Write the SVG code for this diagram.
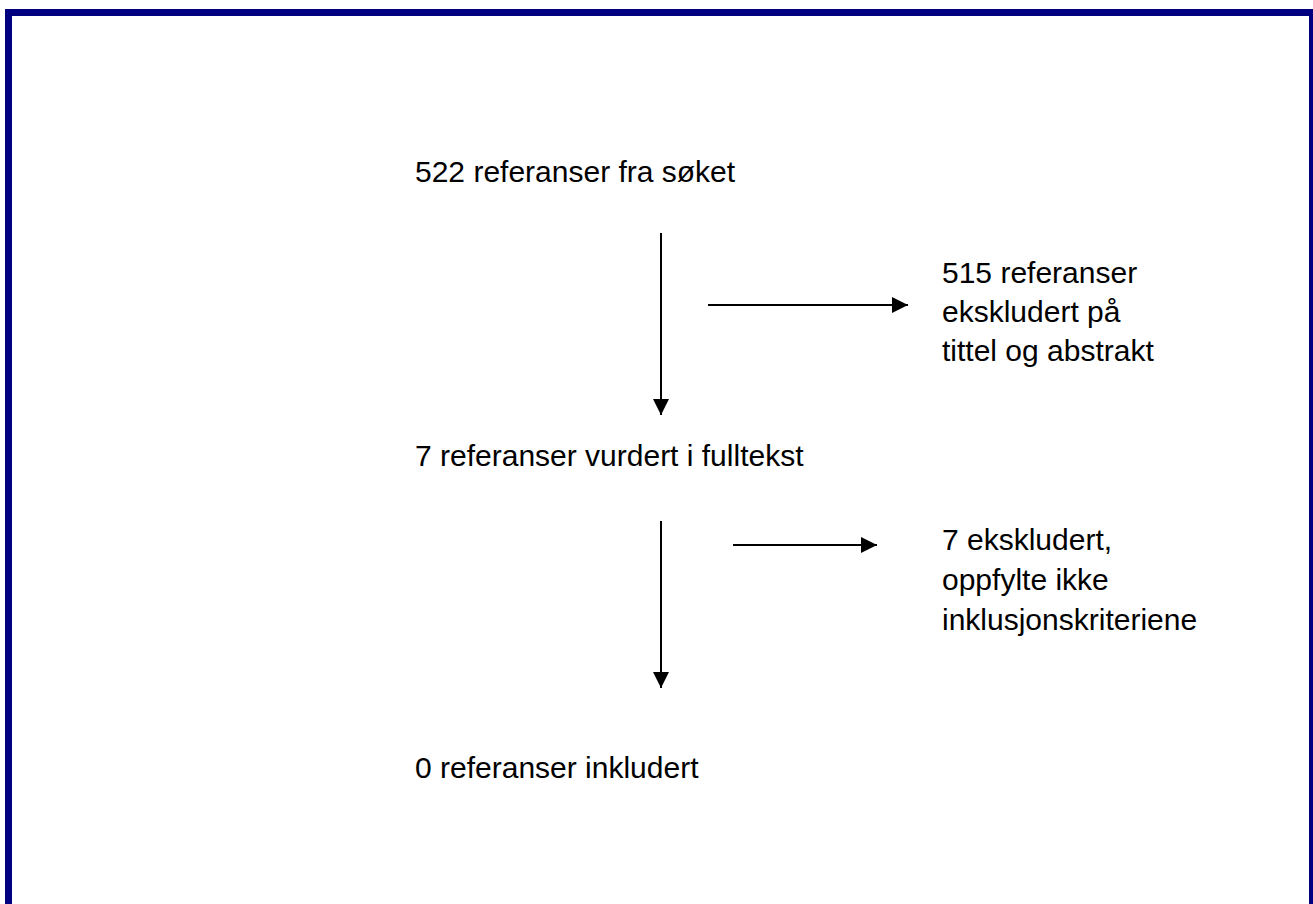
<svg xmlns="http://www.w3.org/2000/svg" width="1313" height="904" viewBox="0 0 1313 904">
<style>
.t{font-family:"Liberation Sans",Arial,sans-serif;font-size:30px;fill:#000}
.c{stroke:#000;stroke-width:2;fill:none}
</style>
<defs>
<marker id="ah" viewBox="0 0 16 16" refX="16" refY="8" markerWidth="16" markerHeight="16" markerUnits="userSpaceOnUse" orient="auto">
<path d="M0,0 L16,8 L0,16 Z" fill="#000"/>
</marker>
</defs>
<rect x="0" y="0" width="1313" height="904" fill="#fff"/>
<rect x="8.5" y="12.5" width="1304" height="900" fill="none" stroke="#000080" stroke-width="7"/>
<g id="connectors">
<line class="c" x1="661" y1="233" x2="661" y2="415" marker-end="url(#ah)"/>
<line class="c" x1="708" y1="305" x2="908" y2="305" marker-end="url(#ah)"/>
<line class="c" x1="661" y1="521" x2="661" y2="688" marker-end="url(#ah)"/>
<line class="c" x1="733" y1="545" x2="877" y2="545" marker-end="url(#ah)"/>
</g>
<g id="n1"><text class="t" x="415" y="182">522 referanser fra søket</text></g>
<g id="n2"><text class="t" x="942" y="283">515 referanser</text><text class="t" x="942" y="322">ekskludert på</text><text class="t" x="942" y="361">tittel og abstrakt</text></g>
<g id="n3"><text class="t" x="415" y="466">7 referanser vurdert i fulltekst</text></g>
<g id="n4"><text class="t" x="942" y="550">7 ekskludert,</text><text class="t" x="942" y="590">oppfylte ikke</text><text class="t" x="942" y="630">inklusjonskriteriene</text></g>
<g id="n5"><text class="t" x="415" y="778">0 referanser inkludert</text></g>
</svg>
